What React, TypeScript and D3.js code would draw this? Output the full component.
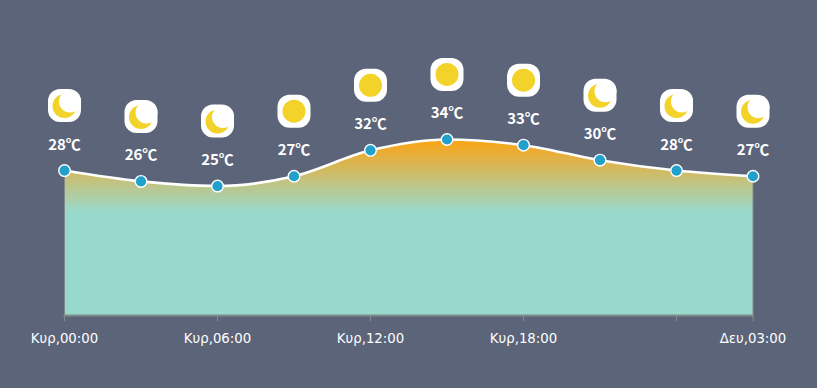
import React from "react";
import * as d3 from "d3";

const slots = [0, 1, 2, 3, 4, 5, 6, 7, 8, 9];
const temps = [28, 26, 25, 27, 32, 34, 33, 30, 28, 27];
const plotted = [28.1, 26, 25.1, 27, 32, 34.1, 33, 30.1, 28.1, 27];
const icons = ["moon", "moon", "moon", "sun", "sun", "sun", "sun", "moon", "moon", "moon"];
const tickSlots = [0, 2, 4, 6, 8, 9];
const tickLabels = ["Κυρ,00:00", "Κυρ,06:00", "Κυρ,12:00", "Κυρ,18:00", "", "Δευ,03:00"];

const W = 817, H = 388;
const x = d3.scaleLinear().domain([0, 9]).range([64.5, 753]);
const y = d3.scaleLinear().domain([0, 34]).range([316, 140]);
const line = d3.line<number>().x((_, i) => x(i)).y(d => y(d)).curve(d3.curveMonotoneX);
const area = d3.area<number>().x((_, i) => x(i)).y0(y(0)).y1(d => y(d)).curve(d3.curveMonotoneX);

export default function App() {
  return (
    <svg width={W} height={H} style={{ position: "fixed", left: 0, top: 0, background: "#5b6479" }}>
      <defs>
        <linearGradient id="g" gradientUnits="userSpaceOnUse" x1="0" x2="0" y1="140" y2="212">
          <stop offset="0" stopColor="#fba415" />
          <stop offset="1" stopColor="#99d9cc" />
        </linearGradient>
      </defs>
      <path d={area(plotted) ?? ""} fill="url(#g)" />
      <line x1={x(0)} x2={x(0)} y1={y(plotted[0])} y2={y(0)} stroke="#7f8b8b" strokeWidth={1} />
      <line x1={x(9)} x2={x(9)} y1={y(plotted[9])} y2={y(0)} stroke="#7f8b8b" strokeWidth={1} />
      <line x1={x(0) - 1} x2={x(9) + 1} y1={315.5} y2={315.5} stroke="#7f8b8b" strokeWidth={2} />
      {tickSlots.map((s, i) => (
        <g key={s}>
          <line x1={x(s)} x2={x(s)} y1={315} y2={321} stroke="#7f8b8b" strokeWidth={1} />
          <text x={x(s)} y={343} textAnchor="middle" fill="#fff" fontFamily="DejaVu Sans" fontSize={13.3}>
            {tickLabels[i]}
          </text>
        </g>
      ))}
      <path d={line(plotted) ?? ""} fill="none" stroke="#fff" strokeWidth={2.6} />
      {slots.map(i => {
        const cx = x(i), cy = y(plotted[i]);
        return (
          <g key={i}>
            <circle cx={cx} cy={cy} r={5.8} fill="#21a0cc" stroke="#fff" strokeWidth={1.4} />
            <text x={cx} y={cy - 21} textAnchor="middle" fill="#fff" fontFamily="Noto Sans CJK SC" fontWeight={700} fontSize={15}>
              {temps[i]}℃
            </text>
            <rect x={cx - 16.5} y={cy - 81.5} width={33} height={33} rx={12} fill="#fff" />
            {icons[i] === "sun" ? (
              <circle cx={cx} cy={cy - 65} r={11.5} fill="#f3d329" />
            ) : (
              <g>
                <circle cx={cx} cy={cy - 64.5} r={12} fill="#f3d329" />
                <circle cx={cx + 5.5} cy={cy - 69} r={11} fill="#fff" />
              </g>
            )}
          </g>
        );
      })}
    </svg>
  );
}
